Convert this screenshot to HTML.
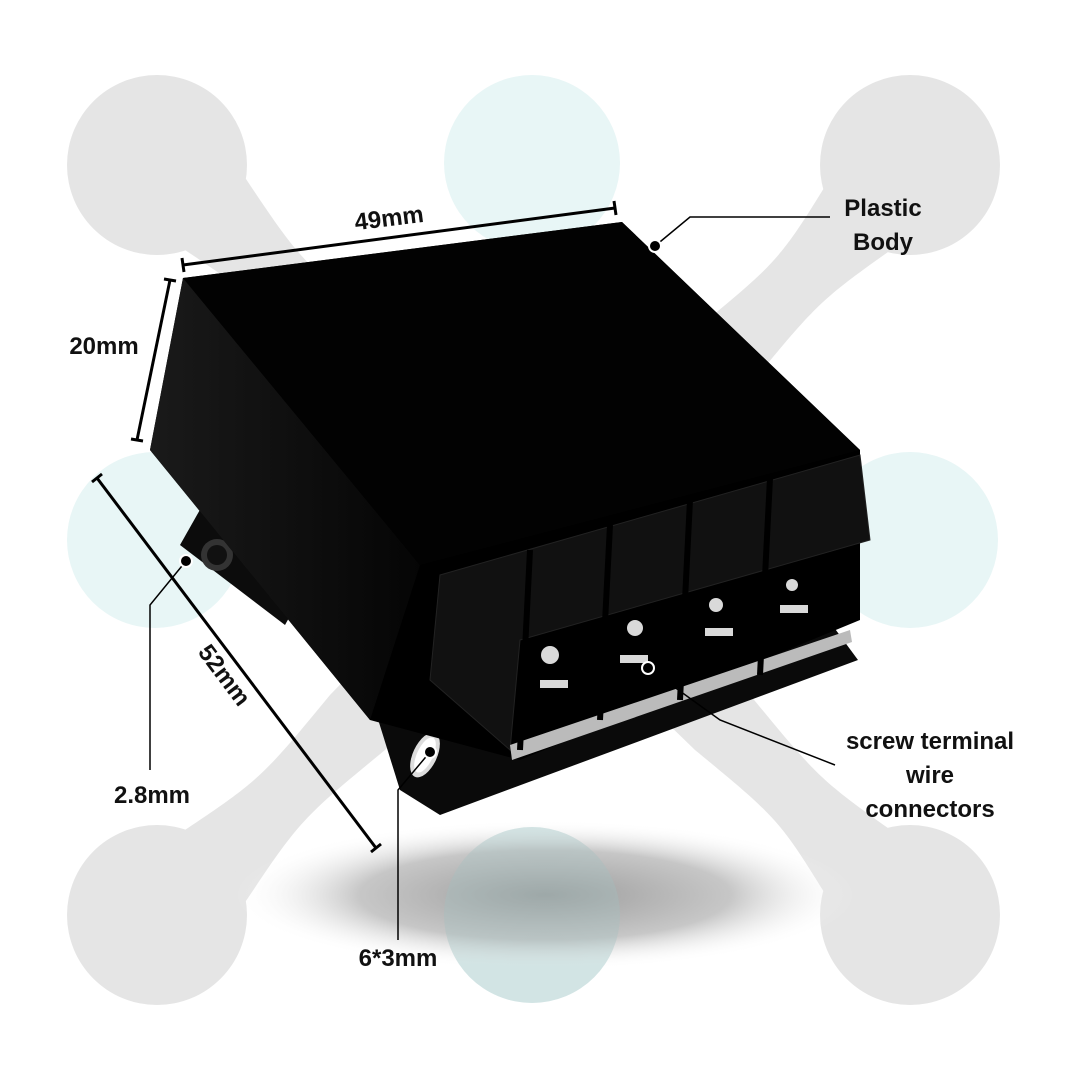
<!DOCTYPE html>
<html><head><meta charset="utf-8"><style>
html,body{margin:0;padding:0;background:#fff}
svg{display:block}
text{font-family:"Liberation Sans",sans-serif;font-weight:bold;fill:#111}
</style></head><body>
<svg width="1080" height="1080" viewBox="0 0 1080 1080" xmlns="http://www.w3.org/2000/svg">
<defs>
<radialGradient id="sh" cx="50%" cy="50%" r="50%">
<stop offset="0" stop-color="#8a8a8a"/><stop offset="0.6" stop-color="#bdbdbd"/><stop offset="1" stop-color="#fff" stop-opacity="0"/></radialGradient>
<linearGradient id="side" x1="0" y1="0" x2="1" y2="0"><stop offset="0" stop-color="#1a1a1a"/><stop offset="1" stop-color="#050505"/></linearGradient>
</defs>
<!-- gray X -->
<g fill="#e5e5e5">
<path d="M240,170 C300,260 300,260 385,330 L540,480 L695,330 C780,260 780,260 835,170 L905,240 C820,300 820,300 750,385 L600,540 L750,695 C820,780 820,780 905,840 L835,910 C780,820 780,820 695,750 L540,600 L385,750 C300,820 300,820 240,910 L170,840 C260,780 260,780 330,695 L480,540 L330,385 C260,300 260,300 170,240 Z"/>
<circle cx="157" cy="165" r="90"/><circle cx="910" cy="165" r="90"/>
<circle cx="157" cy="915" r="90"/><circle cx="910" cy="915" r="90"/>
</g>
<g fill="#e8f6f6">
<circle cx="532" cy="163" r="88"/><circle cx="155" cy="540" r="88"/>
<circle cx="910" cy="540" r="88"/><circle cx="532" cy="915" r="88"/>
</g>
<ellipse cx="545" cy="895" rx="310" ry="75" fill="url(#sh)" opacity="0.85"/>
<circle cx="532" cy="915" r="88" fill="#a8c4c4" opacity="0.35"/>
<!-- base plate -->
<polygon points="372,700 830,622 858,660 440,815 400,790" fill="#0a0a0a"/>
<ellipse cx="425" cy="755" rx="12" ry="24" transform="rotate(25 425 755)" fill="#ddd"/>
<ellipse cx="425" cy="755" rx="8" ry="19" transform="rotate(25 425 755)" fill="#fff"/>
<!-- left tab -->
<polygon points="180,545 210,492 300,598 285,625" fill="#0c0c0c"/>
<circle cx="217" cy="555" r="16" fill="#333"/><circle cx="217" cy="555" r="10" fill="#111"/>
<!-- body -->
<polygon points="183,278 622,222 860,450 860,620 520,760 370,720 150,450" fill="#000"/>
<polygon points="183,278 150,450 370,720 420,565" fill="url(#side)"/>
<polygon points="183,278 622,222 860,450 420,565" fill="#020202"/>
<!-- terminals -->
<g fill="#111" stroke="#222">
<polygon points="440,575 860,455 870,540 520,640 510,750 430,680"/>
</g>
<polygon points="510,745 850,630 852,642 512,760" fill="#bbb"/>
<g fill="#d9d9d9">
<rect x="540" y="680" width="28" height="8"/><rect x="620" y="655" width="28" height="8"/>
<rect x="705" y="628" width="28" height="8"/><rect x="780" y="605" width="28" height="8"/>
<circle cx="550" cy="655" r="9"/><circle cx="635" cy="628" r="8"/><circle cx="716" cy="605" r="7"/><circle cx="792" cy="585" r="6"/>
</g>
<g stroke="#000" stroke-width="6" fill="none">
<line x1="530" y1="550" x2="520" y2="750"/><line x1="610" y1="525" x2="600" y2="720"/>
<line x1="690" y1="500" x2="680" y2="700"/><line x1="770" y1="478" x2="760" y2="675"/>
</g>
<!-- dimension lines -->
<g stroke="#000" stroke-width="3" fill="none">
<line x1="183" y1="265" x2="615" y2="208"/><line x1="182" y1="258" x2="184" y2="272"/><line x1="614" y1="201" x2="616" y2="215"/>
<line x1="170" y1="280" x2="137" y2="440"/><line x1="164" y1="279" x2="176" y2="281"/><line x1="131" y1="439" x2="143" y2="441"/>
<line x1="97" y1="478" x2="376" y2="848"/><line x1="92" y1="482" x2="102" y2="474"/><line x1="371" y1="852" x2="381" y2="844"/>
</g>
<g stroke="#000" stroke-width="1.5" fill="none">
<polyline points="655,246 690,217 830,217"/>
<polyline points="186,561 150,605 150,770"/>
<polyline points="430,752 398,790 398,940"/>
<polyline points="648,668 720,720 835,765"/>
</g>
<g fill="#000" stroke="#fff" stroke-width="2">
<circle cx="655" cy="246" r="6"/><circle cx="186" cy="561" r="6"/><circle cx="430" cy="752" r="6"/><circle cx="648" cy="668" r="6"/>
</g>
<g font-size="24">
<text x="390" y="226" text-anchor="middle" transform="rotate(-7 390 226)">49mm</text>
<text x="104" y="354" text-anchor="middle">20mm</text>
<text x="218" y="680" text-anchor="middle" transform="rotate(53 218 680)">52mm</text>
<text x="152" y="803" text-anchor="middle">2.8mm</text>
<text x="398" y="966" text-anchor="middle">6*3mm</text>
<text x="883" y="216" text-anchor="middle">Plastic</text>
<text x="883" y="250" text-anchor="middle">Body</text>
<text x="930" y="749" text-anchor="middle">screw terminal</text>
<text x="930" y="783" text-anchor="middle">wire</text>
<text x="930" y="817" text-anchor="middle">connectors</text>
</g>
</svg>
</body></html>
